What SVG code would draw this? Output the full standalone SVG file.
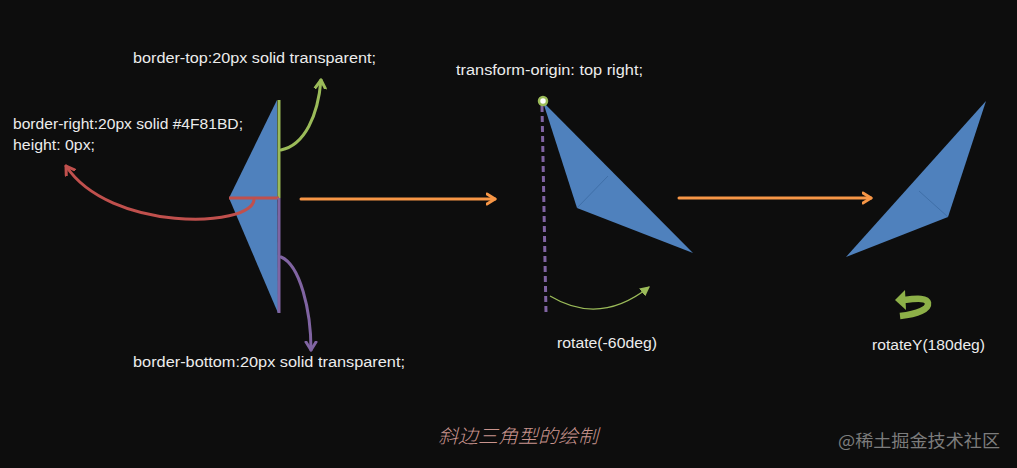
<svg xmlns="http://www.w3.org/2000/svg" width="1017" height="468" viewBox="0 0 1017 468">
<style>
.t{font-family:"Liberation Sans",Arial,sans-serif;font-size:15.5px;fill:#ececec}
.cn{font-family:"Noto Sans CJK SC",sans-serif}
.blue{fill:#4f81bd}
.fold{stroke:#3f6fa8;stroke-width:1;fill:none}
.conn{fill:none;stroke-width:3;stroke-linecap:round}
</style>
<defs>
<marker id="mG" markerUnits="userSpaceOnUse" markerWidth="14" markerHeight="14" refX="9" refY="6" orient="auto" viewBox="0 0 14 12"><path d="M1,1 L9,6 L1,11" fill="none" stroke="#9bbb59" stroke-width="3" stroke-linejoin="round" stroke-linecap="round"/></marker>
<marker id="mR" markerUnits="userSpaceOnUse" markerWidth="14" markerHeight="14" refX="9" refY="6" orient="auto" viewBox="0 0 14 12"><path d="M1,1 L9,6 L1,11" fill="none" stroke="#c0504d" stroke-width="3" stroke-linejoin="round" stroke-linecap="round"/></marker>
<marker id="mP" markerUnits="userSpaceOnUse" markerWidth="14" markerHeight="14" refX="9" refY="6" orient="auto" viewBox="0 0 14 12"><path d="M1,1 L9,6 L1,11" fill="none" stroke="#8064a2" stroke-width="3" stroke-linejoin="round" stroke-linecap="round"/></marker>
<marker id="mO" markerUnits="userSpaceOnUse" markerWidth="14" markerHeight="14" refX="9" refY="6" orient="auto" viewBox="0 0 14 12"><path d="M1,1 L9,6 L1,11" fill="none" stroke="#f79646" stroke-width="3" stroke-linejoin="round" stroke-linecap="round"/></marker>
<marker id="mT" markerUnits="userSpaceOnUse" markerWidth="10" markerHeight="10" refX="7" refY="4" orient="auto" viewBox="0 0 8 8"><path d="M0,0 L8,4 L0,8 Z" fill="#9bbb59"/></marker>
</defs>
<rect width="1017" height="468" fill="#0d0d0d"/>

<g id="triangle-original">
<polygon class="blue" points="277,100 229,198 278,313"/>
<line x1="279" y1="100" x2="279" y2="198" stroke="#9bbb59" stroke-width="3"/>
<line x1="229" y1="198" x2="279" y2="198" stroke="#c0504d" stroke-width="3"/>
<line x1="279" y1="198" x2="279" y2="313" stroke="#8064a2" stroke-width="3"/>
</g>

<g id="triangle-rotated">
<line x1="542" y1="106" x2="546" y2="313" stroke="#8064a2" stroke-width="3" stroke-dasharray="6 4"/>
<polygon class="blue" points="543,102 577,208 693,253"/>
<line class="fold" x1="577" y1="208" x2="608" y2="176"/>
<circle cx="543" cy="101" r="4" fill="#ffffff" stroke="#9bbb59" stroke-width="2.5"/>
</g>

<g id="triangle-flipped">
<polygon class="blue" points="986,101 948,217 846,257"/>
<line class="fold" x1="948" y1="217" x2="919" y2="191"/>
</g>

<g id="flip-icon">
<path d="M900,316 C918,314 929,309 928,303 C927,298 918,298 904,300" fill="none" stroke="#8db048" stroke-width="6.5" stroke-linecap="butt"/>
<polygon points="895,300 905,290 906,310" fill="#8db048"/>
</g>

<g id="connectors">
<path class="conn" d="M281,150 C305,145 318,115 321,80" stroke="#9bbb59" marker-end="url(#mG)"/>
<path class="conn" d="M254,200 C250,228 110,232 66,166" stroke="#c0504d" marker-end="url(#mR)"/>
<path class="conn" d="M281,257 C300,265 311,310 311,350" stroke="#8064a2" marker-end="url(#mP)"/>
<line class="conn" x1="301" y1="199" x2="495" y2="199" stroke="#f79646" marker-end="url(#mO)"/>
<line class="conn" x1="679" y1="198" x2="871" y2="198" stroke="#f79646" marker-end="url(#mO)"/>
<path d="M550,296 Q600,326 649,287" fill="none" stroke="#9bbb59" stroke-width="1.3" marker-end="url(#mT)"/>
</g>

<g id="labels">
<text class="t" x="133" y="63" textLength="243" lengthAdjust="spacingAndGlyphs">border-top:20px solid transparent;</text>
<text class="t" x="13" y="129" textLength="230" lengthAdjust="spacingAndGlyphs">border-right:20px solid #4F81BD;</text>
<text class="t" x="13" y="150" textLength="82" lengthAdjust="spacingAndGlyphs">height: 0px;</text>
<text class="t" x="133" y="367" textLength="272" lengthAdjust="spacingAndGlyphs">border-bottom:20px solid transparent;</text>
<text class="t" x="456" y="75" textLength="187" lengthAdjust="spacingAndGlyphs">transform-origin: top right;</text>
<text class="t" x="557" y="348" textLength="100" lengthAdjust="spacingAndGlyphs">rotate(-60deg)</text>
<text class="t" x="872" y="350" textLength="113" lengthAdjust="spacingAndGlyphs">rotateY(180deg)</text>
<text class="cn" x="438" y="443" font-size="19" font-style="italic" font-weight="300" fill="#c9948d" textLength="160" lengthAdjust="spacingAndGlyphs">斜边三角型的绘制</text>
<text class="cn" x="838" y="447" font-size="17" fill="#7c7c7c" textLength="162" lengthAdjust="spacingAndGlyphs">@稀土掘金技术社区</text>
</g>
</svg>
